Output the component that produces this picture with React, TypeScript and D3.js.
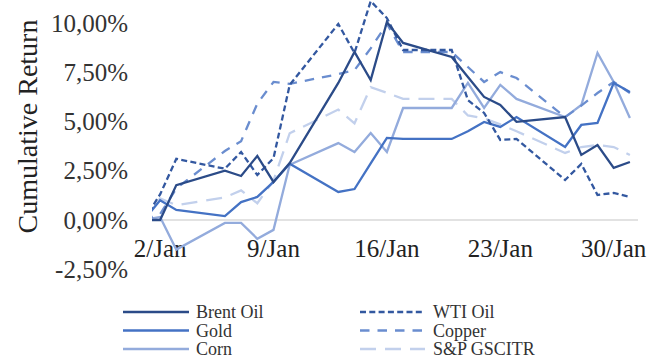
import React from "react";
import * as d3 from "d3";

// Trading days of January 2020; the first entry is the base date (0 %)
const dates = [
  "2020-01-01", "2020-01-02", "2020-01-03", "2020-01-06", "2020-01-07", "2020-01-08",
  "2020-01-09", "2020-01-10", "2020-01-13", "2020-01-14", "2020-01-15", "2020-01-16",
  "2020-01-17", "2020-01-20", "2020-01-21", "2020-01-22", "2020-01-23", "2020-01-24",
  "2020-01-27", "2020-01-28", "2020-01-29", "2020-01-30", "2020-01-31",
];

// Cumulative returns in percent
const brentOil = [0, 0, 1.77, 2.5, 2.23, 3.25, 1.93, 2.89, 6.95, 8.52, 7.1, 10.04, 8.98, 8.27, 7.25, 6.24, 5.83, 4.98, 5.22, 3.3, 3.8, 2.64, 2.94];
const wtiOil = [0, 1.3, 3.1, 2.6, 3.45, 2.28, 3.14, 6.85, 9.94, 8.47, 11.1, 10.24, 8.62, 8.62, 6.08, 5.43, 4.06, 4.11, 2.03, 2.84, 1.27, 1.37, 1.17];
const gold = [0, 1.0, 0.51, 0.2, 0.91, 1.17, 1.93, 2.85, 1.42, 1.57, 2.87, 4.16, 4.11, 4.11, 4.5, 4.97, 4.72, 5.22, 3.7, 4.82, 4.92, 6.95, 6.49];
const copper = [0, 0.3, 1.6, 3.5, 4.0, 5.9, 7.0, 6.9, 7.4, 7.6, 8.7, 9.95, 8.52, 8.52, 7.76, 7.0, 7.5, 7.2, 5.22, 5.8, 6.44, 7.0, 6.44];
const corn = [0, 0.15, -1.5, -0.15, -0.15, -0.95, -0.5, 2.8, 3.9, 3.45, 4.41, 3.45, 5.68, 5.68, 6.95, 5.68, 6.85, 6.14, 5.22, 5.83, 8.47, 7.0, 5.17];
const spGsci = [0, 1.1, 0.75, 1.15, 1.5, 0.85, 2.0, 4.4, 5.6, 4.9, 6.74, 6.45, 6.14, 6.14, 5.3, 5.15, 4.85, 4.5, 3.4, 3.7, 3.8, 3.7, 3.3];

const seriesNames = ["Brent Oil", "WTI Oil", "Gold", "Copper", "Corn", "S&P GSCITR"];
const seriesValues = [brentOil, wtiOil, gold, copper, corn, spGsci];

const yTicks = [-2.5, 0, 2.5, 5, 7.5, 10];
const xTickDates = ["2020-01-02", "2020-01-09", "2020-01-16", "2020-01-23", "2020-01-30"];

// Line appearance per series
const seriesStyles = [
  { color: "#2B4B88", dash: "none" },
  { color: "#3358A0", dash: "6 3.3" },
  { color: "#4472C4", dash: "none" },
  { color: "#6A8DCF", dash: "9.5 8" },
  { color: "#93ABDC", dash: "none" },
  { color: "#C2D0EC", dash: "16 9" },
];

const width = 665;
const height = 358;
const plotLeft = 152;
const plotRight = 638;
const font = "'Liberation Serif', 'Times New Roman', serif";

const locale = d3.formatLocale({
  decimal: ",",
  thousands: ".",
  grouping: [3],
  currency: ["", "€"],
  minus: "-",
});
const pctFormat = (v: number) => locale.format(".2f")(v) + "%";
const dayFormat = d3.utcFormat("%-d/%b");

export default function App() {
  const parsed = dates.map((d) => new Date(d + "T00:00:00Z"));

  const x = d3
    .scaleUtc()
    .domain([new Date("2020-01-01T12:00:00Z"), new Date("2020-01-31T12:00:00Z")])
    .range([plotLeft, plotRight]);
  const y = d3.scaleLinear().domain([0, 10]).range([220, 22.8]);

  const line = d3
    .line<[Date, number]>()
    .x((d) => x(d[0]))
    .y((d) => y(d[1]));

  const legendCols = [
    { lineX0: 123, lineX1: 189, textX: 196 },
    { lineX0: 360, lineX1: 425, textX: 433 },
  ];
  const legendRows = [312, 330.5, 349];

  return (
    <svg
      width={width}
      height={height}
      style={{ position: "absolute", left: 0, top: 0, background: "#fff" }}
    >
      <defs>
        <clipPath id="plot-clip">
          <rect x={plotLeft} y={-40} width={plotRight - plotLeft} height={320} />
        </clipPath>
      </defs>

      {/* zero baseline */}
      <line x1={plotLeft} x2={plotRight} y1={y(0)} y2={y(0)} stroke="#D9D9D9" strokeWidth={1.5} />

      {/* y tick labels */}
      {yTicks.map((t) => (
        <text key={t} x={128} y={y(t)} dy="0.35em" textAnchor="end" fontSize={25} fill="#333" fontFamily={font}>
          {pctFormat(t)}
        </text>
      ))}

      {/* x tick labels */}
      {xTickDates.map((d) => {
        const dt = new Date(d + "T00:00:00Z");
        return (
          <text key={d} x={x(dt)} y={257} textAnchor="middle" fontSize={25} fill="#222" fontFamily={font}>
            {dayFormat(dt)}
          </text>
        );
      })}

      {/* y axis title */}
      <text
        transform="translate(37,126.5) rotate(-90)"
        textAnchor="middle"
        fontSize={28}
        fill="#222"
        fontFamily={font}
      >
        Cumulative Return
      </text>

      {/* series lines, drawn lightest first */}
      <g clipPath="url(#plot-clip)">
        {seriesValues
          .map((vals, i) => ({ vals, i }))
          .reverse()
          .map(({ vals, i }) => (
            <path
              key={seriesNames[i]}
              d={line(parsed.map((d, k) => [d, vals[k]] as [Date, number])) || ""}
              fill="none"
              stroke={seriesStyles[i].color}
              strokeWidth={2.3}
              strokeDasharray={seriesStyles[i].dash}
              strokeLinejoin="miter"
            />
          ))}
      </g>

      {/* legend */}
      {seriesNames.map((name, i) => {
        const col = legendCols[i % 2];
        const rowY = legendRows[Math.floor(i / 2)];
        return (
          <g key={name}>
            <line
              x1={col.lineX0}
              x2={col.lineX1}
              y1={rowY}
              y2={rowY}
              stroke={seriesStyles[i].color}
              strokeWidth={2.3}
              strokeDasharray={seriesStyles[i].dash}
            />
            <text x={col.textX} y={rowY} dy="0.35em" fontSize={18} fill="#333" fontFamily={font}>
              {name}
            </text>
          </g>
        );
      })}
    </svg>
  );
}
